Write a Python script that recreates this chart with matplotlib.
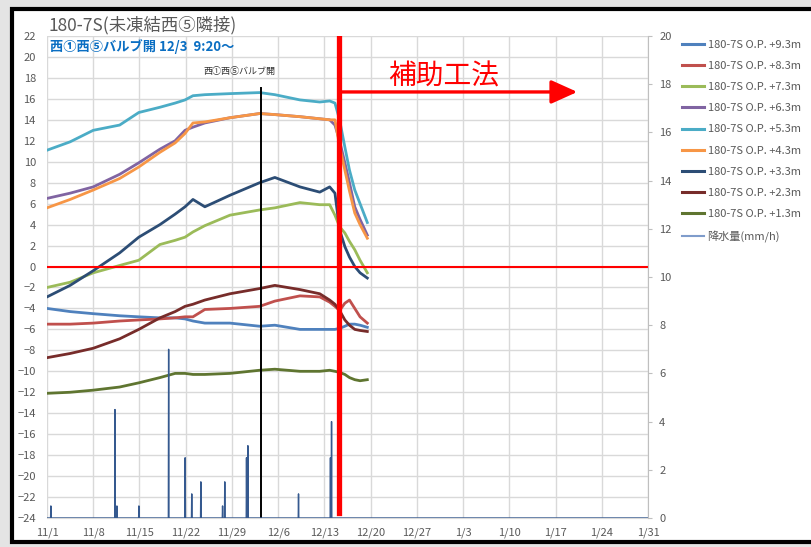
import numpy as np
import matplotlib
matplotlib.use("Agg")
import matplotlib.pyplot as plt
from matplotlib.patches import Rectangle
from matplotlib.lines import Line2D

plt.rcParams['font.family'] = ['Noto Sans CJK JP', 'DejaVu Sans']

# ---------------- data ----------------
x_tick_labels = ["11/1", "11/8", "11/15", "11/22", "11/29", "12/6", "12/13",
                 "12/20", "12/27", "1/3", "1/10", "1/17", "1/24", "1/31"]

# days since 11/1
days = [0, 3.5, 7, 11, 13.9, 17.1, 19.4, 20.9, 22.1, 23.9, 27.7, 32.2, 34.5,
        38.3, 41.3, 42.8, 43.6, 44.3, 45.1, 45.8, 46.6, 47.4, 48.5]

op_93 = [-4.0, -4.3, -4.5, -4.7, -4.8, -4.9, -4.9, -5.0, -5.2, -5.4, -5.4, -5.7, -5.6,
         -6.0, -6.0, -6.0, -6.0, -5.9, -5.7, -5.5, -5.5, -5.6, -5.8]
op_83 = [-5.5, -5.5, -5.4, -5.2, -5.1, -5.0, -4.9, -4.8, -4.8, -4.1, -4.0, -3.8, -3.3,
         -2.8, -2.9, -3.4, -3.8, -4.2, -3.5, -3.2, -4.0, -4.8, -5.4]
op_73 = [-2.0, -1.5, -0.6, 0.1, 0.6, 2.1, 2.5, 2.8, 3.3, 3.9, 4.9, 5.4, 5.6,
         6.1, 5.9, 5.9, 4.9, 3.8, 3.2, 2.4, 1.6, 0.6, -0.6]
op_63 = [6.5, 7.0, 7.6, 8.8, 9.9, 11.2, 12.0, 13.0, 13.3, 13.7, 14.2, 14.6, 14.5,
         14.3, 14.1, 14.0, 13.5, 12.0, 9.9, 8.0, 5.7, 4.5, 3.0]
op_53 = [11.1, 11.9, 13.0, 13.5, 14.7, 15.2, 15.6, 15.9, 16.3, 16.4, 16.5, 16.6, 16.4,
         15.9, 15.7, 15.8, 15.6, 14.0, 11.4, 9.2, 7.3, 6.0, 4.2]
op_43 = [5.6, 6.4, 7.3, 8.4, 9.5, 10.9, 11.8, 12.7, 13.7, 13.8, 14.2, 14.6, 14.5,
         14.3, 14.1, 14.0, 14.0, 11.5, 9.2, 7.2, 5.1, 4.0, 2.7]
op_33 = [-2.9, -1.8, -0.4, 1.3, 2.8, 4.0, 5.0, 5.7, 6.4, 5.7, 6.8, 8.0, 8.5,
         7.6, 7.1, 7.6, 7.0, 3.5, 1.9, 0.9, 0.0, -0.6, -1.1]
op_23 = [-8.7, -8.3, -7.8, -6.9, -6.0, -4.9, -4.3, -3.8, -3.6, -3.2, -2.6, -2.1, -1.8,
         -2.2, -2.6, -3.2, -3.6, -4.2, -5.1, -5.6, -6.0, -6.1, -6.2]
op_13 = [-12.1, -12.0, -11.8, -11.5, -11.1, -10.6, -10.2, -10.2, -10.3, -10.3, -10.2, -9.9, -9.8,
         -10.0, -10.0, -9.9, -10.0, -10.1, -10.3, -10.6, -10.8, -10.9, -10.8]

# rainfall events (day since 11/1, mm/h)
rain_day = [0.6, 10.3, 10.6, 13.9, 18.4, 20.9, 21.9, 23.3, 26.6, 26.9, 30.2, 30.4, 38.1, 42.9, 43.1]
rain_mm = [0.5, 4.5, 0.5, 0.5, 7.0, 2.5, 1.0, 1.5, 0.5, 1.5, 2.5, 3.0, 1.0, 2.5, 4.0]

valve_day = 32.39      # 12/3 9:20
method_day = 44.15     # start of auxiliary method
total_days = 91

series = [
    ("180-7S O.P. +9.3m", op_93, "#4F81BD"),
    ("180-7S O.P. +8.3m", op_83, "#C0504D"),
    ("180-7S O.P. +7.3m", op_73, "#9BBB59"),
    ("180-7S O.P. +6.3m", op_63, "#8064A2"),
    ("180-7S O.P. +5.3m", op_53, "#4BACC6"),
    ("180-7S O.P. +4.3m", op_43, "#F79646"),
    ("180-7S O.P. +3.3m", op_33, "#2C4D75"),
    ("180-7S O.P. +2.3m", op_23, "#772C2A"),
    ("180-7S O.P. +1.3m", op_13, "#5F7530"),
]
rain_color = "#35598F"
rain_legend_color = "#7F9CCB"

# ---------------- figure ----------------
W, H = 811, 547
fig = plt.figure(figsize=(W / 100, H / 100), dpi=100)
fig.patch.set_facecolor("#e4e4e4")
fig.patches.append(Rectangle((12 / W, 1 - 542 / H), 1.0, (542 - 9) / H,
                             transform=fig.transFigure, facecolor="white",
                             edgecolor="black", linewidth=3, zorder=-10))

ax = fig.add_axes([47 / W, 1 - 518 / H, (648 - 47) / W, (518 - 36) / H])
ax.set_facecolor("none")
ax2 = ax.twinx()

gray = "#595959"
grid_c = "#D9D9D9"

ax.set_xlim(0, total_days)
ax.set_ylim(-24, 22)
ax.set_yticks(np.arange(-24, 23, 2))
ax.set_xticks(np.arange(0, total_days + 1, 7))
ax.set_xticklabels(x_tick_labels)
ax.grid(True, color=grid_c, linewidth=1.0)
ax.set_axisbelow(True)
for s in ["top", "left", "right"]:
    ax.spines[s].set_visible(False)
ax.spines["bottom"].set_color(grid_c)
ax.tick_params(axis="both", length=0, labelsize=8, labelcolor=gray)
ax.tick_params(axis="y", pad=8)
ax.tick_params(axis="x", pad=7)

ax2.set_ylim(0, 20)
ax2.set_yticks(np.arange(0, 21, 2))
for s in ["top", "left", "bottom"]:
    ax2.spines[s].set_visible(False)
ax2.spines["right"].set_color("#BFBFBF")
ax2.tick_params(axis="y", length=3, color="#BFBFBF", labelsize=8, labelcolor=gray, pad=5)

# rainfall hourly series
hours = np.arange(0, total_days * 24 + 1)
rain = np.zeros(len(hours))
for d, v in zip(rain_day, rain_mm):
    rain[int(round(d * 24))] = v
ax2.plot(hours / 24.0, rain, color=rain_color, linewidth=1.0, zorder=2)

# temperature series
handles = []
for name, vals, col in series:
    ax.plot(days, vals, color=col, linewidth=2.0, zorder=3)
    handles.append(Line2D([], [], color=col, linewidth=2.2, label=name))
handles.append(Line2D([], [], color=rain_legend_color, linewidth=1.5, label="降水量(mm/h)"))

# zero line
ax.axhline(0, color="red", linewidth=1.5, zorder=4)

# valve open line
ax.axvline(valve_day, ymin=0, ymax=(17 + 24) / 46, color="black", linewidth=1.4, zorder=5)
ax.text(valve_day - 3.3, 18.6, "西①西⑤バルブ開", fontsize=6.5, color="#333333",
        ha="center", va="center")

# auxiliary method line and arrow
ax.axvline(method_day, ymin=0.01, ymax=1, color="red", linewidth=3.8, zorder=6)
ax.annotate("", xy=(80.3, 16.66), xytext=(method_day + 0.2, 16.66),
            arrowprops=dict(arrowstyle="-|>,head_length=1.0,head_width=0.45",
                            color="red", lw=2.4, mutation_scale=16, shrinkA=0, shrinkB=0),
            zorder=6)
ax.text(60.1, 18.1, "補助工法", fontsize=20, color="red", ha="center", va="center")

# titles
fig.text(48 / W, 1 - 25 / H, "180-7S(未凍結西⑤隣接)", fontsize=12.5, color=gray,
         ha="left", va="center")
fig.text(50 / W, 1 - 47 / H, "西①西⑤バルブ開 12/3  9:20〜", fontsize=9.5, color="#0A6EC2",
         fontweight="bold", ha="left", va="center")

# legend
fig.legend(handles=handles, loc="upper left", bbox_to_anchor=(682 / W, 1 - 40 / H),
           frameon=False, fontsize=8, labelcolor=gray, handlelength=2.0,
           handletextpad=0.3, labelspacing=1.0, borderaxespad=0, borderpad=0)

fig.savefig("out.png", dpi=100, facecolor=fig.get_facecolor())
